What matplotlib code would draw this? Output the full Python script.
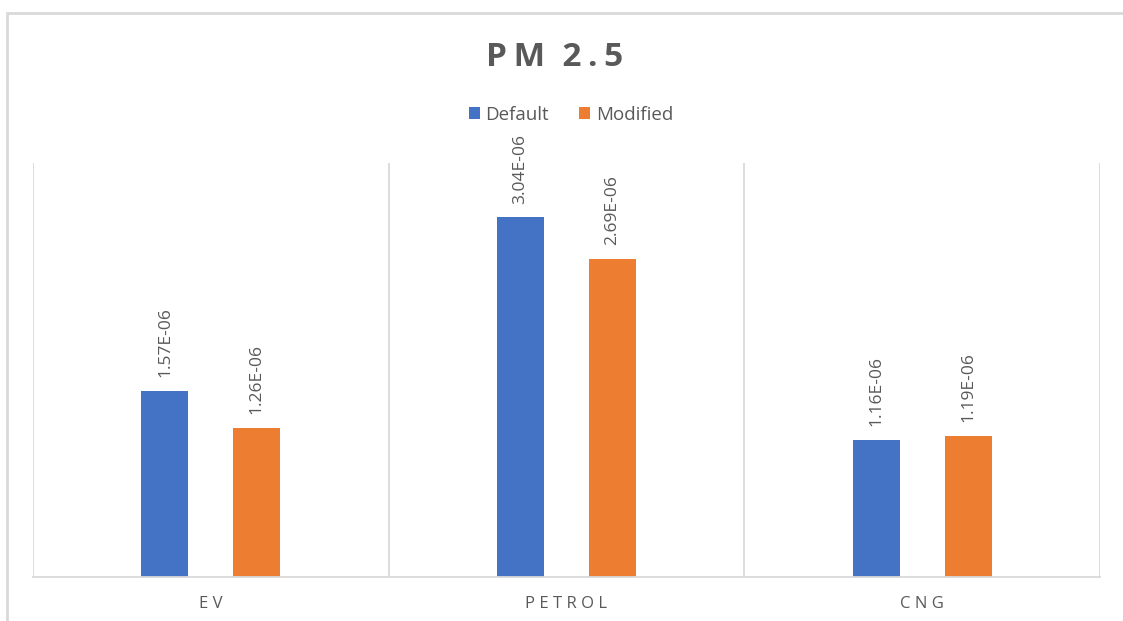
import numpy as np
import matplotlib.pyplot as plt
from matplotlib.patches import Rectangle

plt.rcParams['font.family'] = ['Open Sans', 'DejaVu Sans']

categories = ['EV', 'PETROL', 'CNG']
default_vals = [1.57e-6, 3.04e-6, 1.16e-6]
modified_vals = [1.26e-6, 2.69e-6, 1.19e-6]
series_names = ['Default', 'Modified']
title = 'PM 2.5'

blue = '#4472C4'
orange = '#ED7D31'
grey_text = '#595959'
grid_col = '#D9D9D9'

fig = plt.figure(figsize=(11.23, 6.21), dpi=100)
fig.patches.append(Rectangle((7 / 1123, -0.1), 1.2, 1 - 13 / 621 + 0.1,
                             transform=fig.transFigure, fill=False,
                             edgecolor=grid_col, linewidth=2))

# plot area in pixel terms: x 33..1100, y 163..577
ax = fig.add_axes([33 / 1123, 1 - 577 / 621, (1100 - 33) / 1123, (577 - 163) / 621])

x = np.arange(len(categories))
w = 0.132
off = 0.129
b1 = ax.bar(x - off, default_vals, w, color=blue, label=series_names[0])
b2 = ax.bar(x + off, modified_vals, w, color=orange, label=series_names[1])

for bars, vals in ((b1, default_vals), (b2, modified_vals)):
    for rect, v in zip(bars, vals):
        ax.annotate(f'{v:.2E}',
                    (rect.get_x() + rect.get_width() / 2, v),
                    xytext=(0, 10), textcoords='offset points',
                    rotation=90, ha='center', va='bottom',
                    fontsize=12.5, color=grey_text)

ax.set_xlim(-0.5, 2.5)
ax.set_ylim(0, 3.5e-6)
ax.set_yticks([])
ax.set_xticks(x)
ax.set_xticklabels([' '.join(c) for c in categories], fontsize=12, color=grey_text)
ax.tick_params(axis='x', length=0, pad=14)

for xv in [-0.5, 0.5, 1.5, 2.5]:
    ax.axvline(xv, color=grid_col, linewidth=1.3, zorder=0)
for side in ['top', 'left', 'right']:
    ax.spines[side].set_visible(False)
ax.spines['bottom'].set_color(grid_col)
ax.spines['bottom'].set_linewidth(1.3)

# slightly tracked title
fig.text(555 / 1123, 1 - 57 / 621, '\u2009'.join(title).replace('\u2009 \u2009', '  '),
         ha='center', va='center', fontsize=24, fontweight='bold', color=grey_text)

fig.legend(handles=[b1, b2], loc='center', bbox_to_anchor=(571 / 1123, 1 - 115 / 621),
           ncol=2, frameon=False, fontsize=13.5, handlelength=0.6, handleheight=0.6,
           handletextpad=0.3, columnspacing=1.6, labelcolor=grey_text)

fig.savefig('out.png', dpi=100)
